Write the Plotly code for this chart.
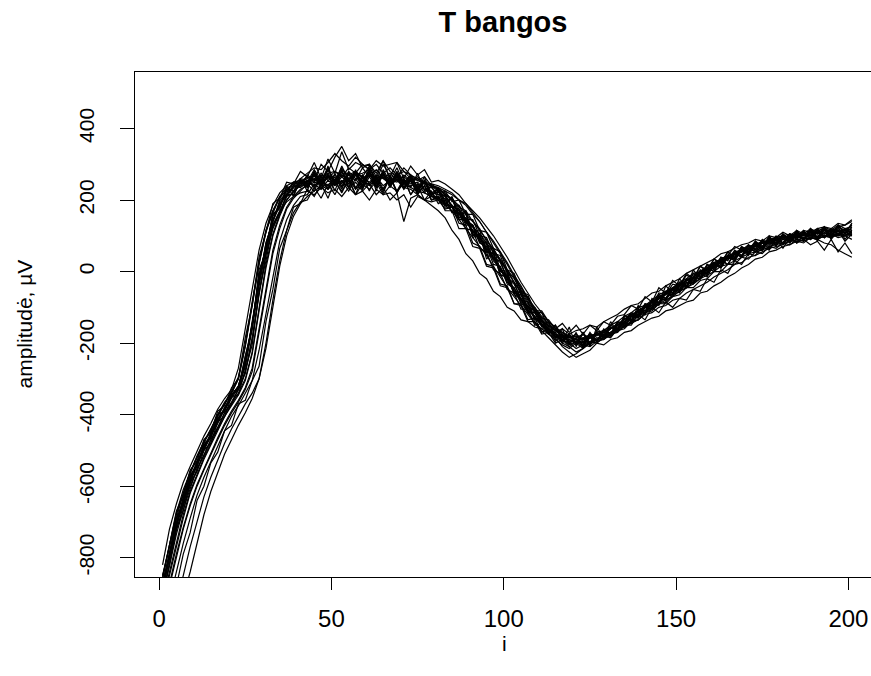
import plotly.graph_objects as go

# sample index i (every 2nd sample, 1..201)
I_VALUES = list(range(1, 202, 2))

TITLE = "T bangos"
X_LABEL = "i"
Y_LABEL = "amplitudė, µV"
X_TICKS = [0, 50, 100, 150, 200]
X_TICK_TEXT = ["0", "50", "100", "150", "200"]
Y_TICKS = [-800, -600, -400, -200, 0, 200, 400]
Y_TICK_TEXT = ["-800", "-600", "-400", "-200", "0", "200", "400"]

TRACE_A = [-885,-795,-690,-655,-575,-540,-485,-460,-400,-390,-345,-325,-235,-160,5,55,160,175,240,210,260,
           225,280,240,295,240,285,235,270,275,285,225,285,250,270,250,270,230,265,210,
           235,185,210,150,170,95,105,35,55,-10,-10,-65,-75,-115,-115,-145,
           -175,-150,-195,-155,-210,-170,-210,-155,-185,-140,-170,-120,
           -140,-95,-120,-75,-90,-40,-60,-20,-45,5,-20,20,5,40,35,50,45,65,65,85,80,90,80,105,95,105,105,115,95,120,115,100,115]
TRACE_B = [-860,-760,-670,-625,-555,-530,-470,-450,-390,-375,-325,-300,-185,-95,40,110,190,205,250,245,280,
           265,305,260,315,275,335,285,305,295,300,265,310,255,290,245,270,235,255,215,
           225,180,180,135,130,80,70,20,15,-35,-40,-90,-90,-135,-130,-170,
           -160,-195,-175,-200,-185,-205,-170,-195,-160,-175,-140,-145,
           -115,-120,-90,-95,-60,-65,-35,-40,-10,-20,15,5,35,25,55,40,70,60,85,70,95,80,105,90,110,100,115,105,120,110,125,115,130]
TRACE_C = [-900,-820,-720,-670,-590,-560,-500,-480,-420,-405,-350,-345,-275,-205,-55,30,130,165,215,215,250,
           235,260,245,270,225,280,235,285,230,275,260,270,245,280,235,270,230,250,215,
           230,200,205,160,165,110,115,60,65,5,0,-55,-55,-110,-100,-150,
           -140,-185,-160,-205,-170,-215,-175,-195,-170,-180,-145,-155,
           -125,-130,-100,-105,-75,-80,-50,-55,-30,-30,-5,-5,20,15,40,35,60,50,75,60,90,75,100,85,100,90,115,85,120,90,115,85,105]
TRACE_D = [-875,-790,-710,-630,-570,-540,-490,-460,-410,-385,-345,-320,-260,-140,-25,80,140,200,220,250,240,
           270,255,300,280,320,350,310,330,290,300,275,310,280,265,290,270,255,265,240,
           235,215,200,175,145,130,90,75,30,10,-30,-45,-80,-110,-125,-150,
           -160,-185,-175,-200,-190,-205,-185,-195,-175,-180,-150,-145,
           -120,-125,-95,-100,-70,-75,-45,-50,-20,-25,0,5,25,20,45,40,65,55,80,70,95,85,100,90,110,100,115,105,120,110,125,115,130]
TRACE_E = [-1050,-960,-880,-790,-730,-640,-600,-535,-505,-445,-430,-370,-360,-305,-265,-140,-50,65,115,180,190,
           230,210,245,205,255,220,260,215,265,225,270,230,265,220,260,215,245,220,240,
           205,215,180,185,145,145,100,95,50,45,-5,-15,-65,-70,-115,-115,
           -155,-150,-185,-175,-200,-185,-205,-175,-185,-155,-165,-130,
           -140,-105,-115,-80,-90,-60,-65,-35,-45,-15,-20,10,0,30,20,50,40,65,55,80,65,90,75,100,80,105,90,110,95,110,100,115,100]
TRACE_F = [-1000,-920,-840,-760,-690,-625,-575,-530,-485,-445,-405,-375,-340,-305,-220,-120,-10,85,145,185,210,
           215,245,230,255,240,265,245,270,235,280,240,275,235,270,230,255,220,240,200,
           210,185,185,150,150,105,100,55,50,0,-5,-55,-60,-105,-105,-140,
           -150,-165,-170,-185,-180,-195,-185,-175,-180,-160,-150,-135,
           -115,-125,-90,-100,-65,-75,-45,-50,-20,-30,5,-5,25,15,45,30,65,50,80,65,95,70,105,80,110,85,115,90,120,95,125,90,115]
TRACE_G = [-960,-880,-800,-720,-655,-600,-555,-510,-470,-430,-395,-365,-330,-280,-170,-60,50,120,175,205,225,
           245,225,270,230,275,235,280,230,270,245,265,225,270,220,255,235,275,225,245,
           230,215,205,180,170,140,120,85,65,30,5,-30,-55,-85,-110,-135,
           -155,-175,-190,-200,-215,-205,-210,-195,-190,-175,-170,-150,
           -150,-120,-135,-100,-115,-85,-100,-75,-80,-50,-55,-20,-30,5,-5,30,20,50,45,70,60,90,65,95,80,90,75,85,60,90,55,80,50]
TRACE_H = [-820,-720,-650,-590,-545,-500,-460,-425,-385,-355,-330,-270,-160,-40,60,135,185,220,240,250,255,
           250,285,255,290,245,285,270,280,260,275,255,280,240,275,235,260,220,240,200,
           210,170,170,120,120,70,65,15,10,-40,-45,-90,-95,-140,-140,-175,
           -170,-200,-190,-210,-195,-210,-180,-195,-165,-175,-140,-150,
           -125,-115,-100,-90,-75,-60,-50,-40,-25,-15,0,10,20,30,40,50,55,65,70,80,85,90,95,100,95,105,100,110,105,115,110,120,115]
TRACE_I = [-890,-800,-715,-645,-590,-540,-500,-460,-425,-385,-355,-325,-265,-160,-40,60,130,170,195,210,220,
           225,215,235,220,230,210,235,215,225,200,230,215,220,200,215,180,210,200,195,
           200,175,180,145,145,105,100,55,50,0,-10,-60,-65,-110,-115,-155,
           -160,-180,-200,-210,-225,-215,-200,-190,-185,-170,-160,-145,
           -135,-120,-110,-100,-85,-75,-60,-45,-35,-20,-10,5,15,25,40,45,55,60,70,80,85,95,90,105,100,115,110,120,125,120,135,130,145]
TRACE_J = [-905,-815,-725,-655,-600,-555,-510,-470,-435,-395,-365,-330,-280,-185,-60,50,120,165,210,235,250,
           260,270,255,275,280,265,290,275,300,285,310,295,300,305,280,270,260,250,240,
           230,220,200,185,160,140,115,90,60,35,5,-20,-50,-80,-105,-130,
           -150,-165,-180,-185,-175,-190,-180,-175,-170,-160,-150,-140,
           -120,-125,-95,-105,-70,-80,-45,-55,-25,-30,0,-10,25,10,45,35,60,50,80,65,90,80,105,90,115,90,120,95,125,100,130,105,135]
TRACE_K = [-855,-765,-675,-610,-560,-515,-475,-440,-400,-365,-340,-300,-210,-90,20,110,170,205,230,245,250,
           265,255,270,260,280,270,255,275,265,250,270,260,245,265,250,240,245,230,220,
           200,205,165,165,120,115,65,55,5,-5,-50,-60,-105,-105,-150,-145,
           -170,-175,-185,-190,-180,-190,-175,-180,-165,-160,-145,-135,
           -120,-110,-95,-85,-70,-60,-45,-35,-25,-10,0,10,25,30,45,50,60,70,75,85,85,95,100,95,105,110,100,110,115,105,115,110,120]
TRACE_L = [-880,-785,-705,-640,-575,-535,-495,-455,-420,-380,-350,-320,-255,-145,-20,75,145,190,215,240,260,
           275,290,285,305,330,310,295,320,300,285,300,275,290,270,280,260,255,245,240,
           225,210,185,170,140,115,85,60,35,5,-25,-55,-80,-100,-125,-150,
           -165,-175,-195,-180,-190,-200,-185,-175,-180,-170,-155,-140,
           -130,-120,-100,-95,-75,-65,-50,-40,-25,-20,-5,10,15,30,35,50,55,65,70,80,80,90,95,100,95,105,100,110,100,105,95,100,90]
TRACE_M = [-930,-850,-765,-690,-620,-570,-525,-485,-445,-405,-375,-345,-305,-230,-110,10,100,155,200,225,240,
           240,270,230,275,250,270,255,275,240,280,235,275,240,260,235,255,215,240,200,
           205,195,180,160,140,115,95,65,40,10,-20,-55,-85,-115,-140,-165,
           -185,-205,-225,-240,-230,-215,-200,-185,-190,-175,-160,-150,
           -140,-125,-115,-100,-90,-80,-70,-55,-45,-35,-20,-10,0,15,20,30,40,50,55,60,70,75,80,85,90,85,95,90,80,75,60,50,40]
TRACE_N = [-870,-790,-690,-645,-570,-545,-480,-465,-400,-390,-335,-330,-240,-150,-10,65,160,180,230,225,255,
           235,270,245,270,250,280,255,280,250,270,245,275,245,265,230,265,225,250,210,
           210,215,180,175,135,125,80,70,20,15,-35,-45,-90,-95,-135,-135,
           -170,-160,-190,-175,-200,-175,-200,-170,-185,-155,-160,-130,
           -135,-105,-110,-80,-85,-55,-60,-30,-40,-5,-15,20,10,40,30,60,45,75,60,90,75,100,80,105,90,115,90,120,95,120,105,120,105]
TRACE_O = [-1150,-1070,-990,-910,-840,-760,-680,-615,-560,-510,-470,-430,-395,-355,-300,-200,-80,30,115,165,195,
           200,235,205,245,215,255,225,260,230,265,235,270,240,260,235,255,230,250,220,
           215,225,195,200,160,160,115,110,65,55,5,-5,-55,-65,-110,-110,
           -140,-155,-170,-180,-190,-185,-180,-175,-170,-160,-150,-140,
           -120,-130,-100,-105,-75,-80,-50,-60,-30,-35,-5,-15,20,10,40,30,60,45,75,60,85,75,95,80,105,90,110,95,115,100,120,105,125]
TRACE_P = [-850,-770,-690,-620,-565,-520,-480,-440,-405,-370,-340,-300,-205,-95,25,115,170,210,235,240,260,
           255,240,260,230,250,225,255,215,245,230,250,215,240,225,245,235,225,220,210,
           200,185,170,145,120,95,70,45,15,-15,-45,-70,-95,-120,-145,-160,
           -175,-185,-180,-195,-185,-175,-185,-170,-165,-150,-140,-125,
           -115,-100,-95,-80,-65,-55,-45,-30,-20,-5,0,15,25,35,40,55,60,70,75,80,90,95,100,105,100,95,105,115,120,110,125,130,140]
TRACE_Q = [-885,-800,-710,-640,-585,-535,-495,-455,-420,-380,-350,-320,-255,-150,-30,70,140,185,215,235,250,
           245,280,250,285,255,290,260,280,265,295,255,300,265,305,260,295,270,285,250,
           255,245,230,215,190,165,140,110,80,50,20,-15,-45,-75,-100,-125,
           -145,-165,-180,-195,-190,-200,-185,-190,-175,-170,-160,-145,
           -145,-110,-120,-85,-95,-60,-70,-40,-45,-15,-20,10,0,35,20,55,40,70,55,85,70,95,80,105,90,110,95,120,95,120,105,120,110]
TRACE_R = [-920,-840,-755,-680,-615,-565,-520,-480,-440,-405,-370,-340,-300,-225,-105,20,105,160,200,225,240,
           255,235,255,240,265,230,275,235,255,240,260,220,265,225,260,215,240,200,225,
           190,200,165,170,130,130,85,80,35,30,-20,-30,-80,-85,-130,-135,
           -170,-170,-200,-175,-205,-170,-200,-165,-180,-150,-160,-125,
           -125,-110,-100,-85,-75,-60,-50,-35,-25,-15,0,10,20,30,40,50,60,65,75,80,85,90,95,95,100,105,100,110,105,115,105,110,100]
TRACE_S = [-880,-800,-705,-650,-580,-545,-490,-465,-410,-390,-345,-330,-250,-155,-10,65,155,180,230,225,255,
           240,275,245,285,250,295,255,280,240,290,250,275,235,280,245,260,225,255,220,
           230,190,205,150,160,100,105,45,50,-10,-15,-60,-65,-100,-105,-130,
           -135,-160,-145,-170,-150,-175,-150,-165,-140,-150,-125,-120,
           -95,-105,-70,-85,-45,-60,-25,-40,-5,-20,15,0,35,20,55,35,70,50,85,65,100,75,105,85,115,90,120,95,125,100,130,105,135]
TRACE_T = [-955,-870,-790,-715,-650,-595,-550,-505,-465,-425,-390,-360,-325,-270,-160,-50,60,130,180,210,230,
           240,250,245,235,255,240,260,230,250,245,265,240,255,250,270,255,265,250,245,
           240,230,220,200,185,160,140,110,85,55,25,-10,-40,-75,-105,-135,
           -160,-185,-210,-225,-240,-230,-220,-200,-205,-190,-185,-170,
           -165,-150,-140,-130,-125,-110,-105,-95,-85,-80,-60,-55,-40,-30,-15,-5,10,20,35,40,55,60,70,75,85,80,95,90,100,95,105,100,110]
TRACE_U = [-850,-765,-680,-620,-560,-520,-475,-445,-400,-370,-335,-295,-205,-85,25,115,165,210,225,250,245,
           265,250,275,255,270,245,280,260,255,275,250,265,245,255,235,230,215,200,185,
           170,150,115,90,50,30,-5,-20,-55,-70,-100,-110,-135,-140,-155,-160,
           -160,-170,-160,-175,-165,-160,-150,-155,-140,-130,-120,-105,
           -95,-90,-75,-60,-55,-40,-30,-20,-5,5,15,25,35,50,55,65,75,80,90,85,100,95,110,100,115,105,120,110,125,115,130,120,125]
TRACE_V = [-910,-825,-735,-665,-605,-550,-515,-470,-440,-395,-370,-330,-285,-190,-65,45,125,170,210,220,245,
           250,260,240,265,245,255,235,250,225,245,215,235,200,220,140,205,215,200,210,
           205,190,180,160,150,125,105,80,55,30,0,-30,-60,-90,-115,-140,
           -160,-180,-190,-205,-195,-210,-195,-200,-185,-180,-165,-160,
           -140,-135,-115,-110,-90,-90,-70,-65,-45,-45,-25,-20,0,0,20,20,40,35,55,50,70,65,80,75,90,85,95,90,100,95,105,100,110]
TRACE_W = [-1100,-1010,-930,-850,-770,-700,-630,-575,-525,-480,-440,-405,-370,-340,-300,-215,-100,15,100,155,190,
           210,225,240,230,255,250,270,255,290,265,285,260,275,255,265,250,260,245,240,
           235,225,215,200,190,170,150,125,100,70,40,5,-30,-60,-90,-115,
           -140,-160,-175,-190,-200,-195,-205,-190,-185,-175,-165,-155,
           -145,-135,-120,-115,-100,-95,-80,-75,-60,-50,-40,-30,-15,-5,5,20,25,40,45,55,65,70,75,85,85,95,90,100,95,105,100,105,100]
TRACE_X = [-880,-795,-705,-635,-580,-530,-495,-450,-415,-385,-345,-325,-260,-145,-30,80,140,195,215,240,235,
           250,270,240,265,255,280,245,275,250,285,260,270,250,275,255,245,250,230,235,
           215,210,180,175,140,130,90,80,40,25,-20,-35,-75,-95,-130,-150,
           -175,-190,-205,-215,-200,-215,-195,-200,-180,-185,-160,-155,
           -140,-135,-115,-105,-90,-85,-65,-55,-45,-30,-20,0,10,35,45,70,60,75,55,70,80,75,90,85,100,90,105,95,110,100,105,115,110]

TRACES = [TRACE_A, TRACE_B, TRACE_C, TRACE_D, TRACE_E, TRACE_F, TRACE_G, TRACE_H, TRACE_I,
          TRACE_J, TRACE_K, TRACE_L, TRACE_M, TRACE_N, TRACE_O, TRACE_P, TRACE_Q, TRACE_R,
          TRACE_S, TRACE_T, TRACE_U, TRACE_V, TRACE_W, TRACE_X]

for t in TRACES:
    assert len(t) == len(I_VALUES), len(t)

FONT = "Liberation Sans, Arial, sans-serif"

fig = go.Figure()
for t in TRACES:
    fig.add_trace(go.Scatter(x=I_VALUES, y=t, mode="lines",
                             line=dict(color="black", width=1.2),
                             showlegend=False, hoverinfo="skip"))

fig.update_layout(
    width=871, height=676,
    margin=dict(l=135, r=0, t=72, b=99),
    paper_bgcolor="white", plot_bgcolor="white",
    title=dict(text="<b>" + TITLE + "</b>", x=0.5, xref="paper", y=1 - 22 / 676,
               yref="container", xanchor="center", yanchor="middle",
               font=dict(family=FONT, size=29, color="black")),
    font=dict(family=FONT, color="black"),
    showlegend=False,
)

fig.update_xaxes(
    range=[-7, 206.55], showgrid=False, zeroline=False,
    showline=True, linecolor="black", linewidth=1, mirror=True,
    ticks="outside", ticklen=12, tickwidth=1, tickcolor="black",
    tickvals=X_TICKS, ticktext=X_TICK_TEXT,
    tickfont=dict(family=FONT, size=24, color="black"),
    ticklabelstandoff=8,
)
fig.update_yaxes(
    range=[-854, 558], showgrid=False, zeroline=False,
    showline=True, linecolor="black", linewidth=1, mirror=False,
    ticks="outside", ticklen=14, tickwidth=1, tickcolor="black",
    tickvals=Y_TICKS, ticktext=Y_TICK_TEXT, tickangle=-90,
    tickfont=dict(family=FONT, size=21, color="black"),
    ticklabelstandoff=18,
)

fig.add_annotation(text=X_LABEL, xref="paper", yref="paper",
                   x=(505 - 135) / 736, y=(577 - 643) / 505,
                   xanchor="center", yanchor="middle", showarrow=False,
                   font=dict(family=FONT, size=21, color="black"))
fig.add_annotation(text=Y_LABEL, xref="paper", yref="paper",
                   x=(24 - 135) / 736, y=0.5, textangle=-90,
                   xanchor="center", yanchor="middle", showarrow=False,
                   font=dict(family=FONT, size=21, color="black"))

fig.write_html("out.html", config={"displayModeBar": False})

# remove the default page margin so the figure sits at the window's top-left corner
with open("out.html", "r", encoding="utf-8") as fh:
    html = fh.read()
html = html.replace("<body>", '<body style="margin:0;padding:0;overflow:hidden">', 1)
with open("out.html", "w", encoding="utf-8") as fh:
    fh.write(html)
